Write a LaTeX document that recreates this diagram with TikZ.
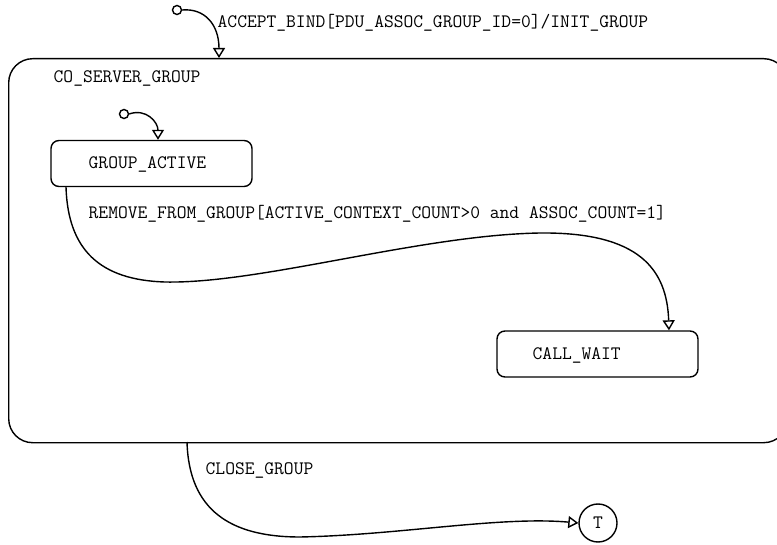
\documentclass[tikz,border=0pt]{standalone}
\usepackage{fontspec}
\usetikzlibrary{arrows.meta}
\begin{document}
\begin{tikzpicture}[x=1pt, y=-1pt, line width=1.4pt,
  >={Triangle[open, length=10pt, width=12pt]},
  state/.style={draw, rounded corners=8pt, minimum width=201pt, minimum height=46pt},
  lbl/.style={anchor=base west, inner sep=0pt, font=\ttfamily\fontsize{19}{21}\selectfont},
  init/.style={draw, circle, inner sep=0pt, minimum size=9pt}]
\useasboundingbox (0,0) rectangle (777,545);
\clip (0,0) rectangle (777,545);

\node[draw, rounded corners=24pt, minimum width=779pt, minimum height=384pt, anchor=north west] (group) at (8,58) {};
\node[lbl] (grouplbl) at (53,83) {CO\_SERVER\_GROUP};
\coordinate (gin) at (219,58);
\coordinate (gout) at (187,442);

\node[state] (active) at (151.5,163.5) {};
\node[lbl] (activelbl) at (88,169) {GROUP\_ACTIVE};
\node[state] (wait) at (597.5,354) {};
\node[lbl] (waitlbl) at (532,360) {CALL\_WAIT};
\node[draw, circle, minimum size=38pt, inner sep=0pt, font=\ttfamily\fontsize{19}{21}\selectfont] (term) at (598,523) {T};

\node[init] (ini1) at (177,10) {};
\node[init] (ini2) at (124,114) {};

\draw[->] (ini1.east) .. controls (205,8) and (219,25) .. (gin);
\node[lbl] (acceptlbl) at (217,28) {ACCEPT\_BIND[PDU\_ASSOC\_GROUP\_ID=0]/INIT\_GROUP};

\draw[->] (ini2.east) .. controls (146,108) and (158,122) .. ([xshift=6.5pt]active.north);

\draw[->] ([xshift=-85.5pt]active.south) .. controls (68,250) and (100,280) .. (165,282)
  .. controls (260,284) and (420,235) .. (540,233)
  .. controls (640,232) and (667,270) .. ([xshift=71.5pt]wait.north);
\node[lbl] (removelbl) at (88,219) {REMOVE\_FROM\_GROUP[ACTIVE\_CONTEXT\_COUNT>0 and ASSOC\_COUNT=1]};

\draw[->] (gout) .. controls (189,510) and (230,537) .. (300,537)
  .. controls (400,535) and (500,516) .. (term.west);
\node[lbl] (closelbl) at (205,475) {CLOSE\_GROUP};
\end{tikzpicture}
\end{document}
